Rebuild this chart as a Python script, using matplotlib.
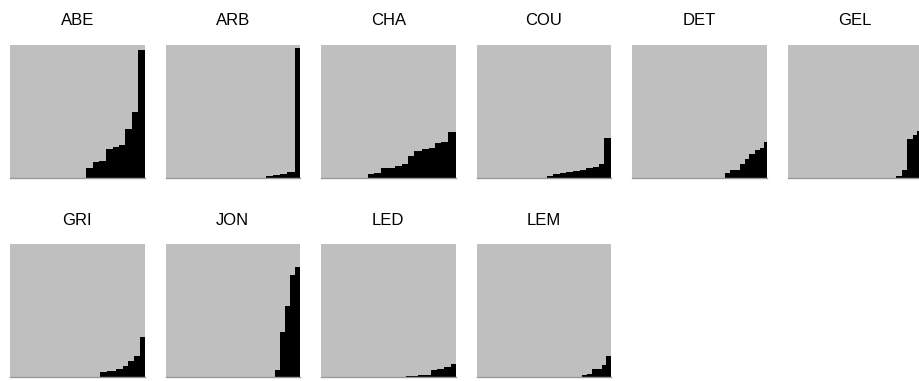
import matplotlib
matplotlib.use("Agg")
import matplotlib.pyplot as plt

plt.rcParams['font.family'] = ['Liberation Sans', 'DejaVu Sans']

# Sites, one panel each
sites = ["ABE", "ARB", "CHA", "COU", "DET", "GEL", "GRI", "JON", "LED", "LEM"]

# Step edges (share of panel width) for the black area
abe_x = [0.567, 0.614, 0.662, 0.716, 0.764, 0.811, 0.858, 0.905, 0.950, 1.0]
arb_x = [0.746, 0.801, 0.851, 0.900, 0.960, 1.0]
cha_x = [0.35, 0.395, 0.445, 0.5, 0.55, 0.6, 0.645, 0.695, 0.75, 0.8, 0.845, 0.895, 0.945, 1.0]
cou_x = [0.522, 0.571, 0.620, 0.669, 0.718, 0.767, 0.816, 0.865, 0.914, 0.951, 1.0]
det_x = [0.69, 0.732, 0.8, 0.837, 0.873, 0.915, 0.951, 0.983, 1.0]
gel_x = [0.805, 0.848, 0.888, 0.931, 0.964, 1.0]
gri_x = [0.672, 0.722, 0.789, 0.839, 0.876, 0.921, 0.963, 1.0]
jon_x = [0.812, 0.853, 0.890, 0.927, 0.966, 1.0]
led_x = [0.632, 0.681, 0.723, 0.767, 0.816, 0.865, 0.914, 0.963, 1.0]
lem_x = [0.783, 0.821, 0.862, 0.933, 0.964, 1.0]

# Step heights (share of panel height)
abe_y = [0.068, 0.113, 0.123, 0.217, 0.227, 0.242, 0.363, 0.489, 0.955]
arb_y = [0.01, 0.018, 0.025, 0.038, 0.97]
cha_y = [0.025, 0.035, 0.068, 0.073, 0.088, 0.103, 0.161, 0.199, 0.217, 0.224, 0.262, 0.264, 0.345]
cou_y = [0.01, 0.025, 0.035, 0.043, 0.05, 0.06, 0.07, 0.081, 0.1, 0.295]
det_y = [0.035, 0.06, 0.105, 0.14, 0.18, 0.205, 0.225, 0.265]
gel_y = [0.01, 0.06, 0.29, 0.32, 0.35]
gri_y = [0.037, 0.045, 0.062, 0.082, 0.119, 0.156, 0.298]
jon_y = [0.052, 0.335, 0.533, 0.764, 0.826]
led_y = [0.004, 0.008, 0.012, 0.015, 0.052, 0.062, 0.077, 0.094]
lem_y = [0.012, 0.025, 0.062, 0.087, 0.156]

edges = [abe_x, arb_x, cha_x, cou_x, det_x, gel_x, gri_x, jon_x, led_x, lem_x]
heights = [abe_y, arb_y, cha_y, cou_y, det_y, gel_y, gri_y, jon_y, led_y, lem_y]

W, H = 919, 381
fig = plt.figure(figsize=(W / 100, H / 100), dpi=100)

ncols = 6
pw, ph = 134.5, 133
col_left = 10
col_step = 155.5
row_top = [44.5, 244]

for i, site in enumerate(sites):
    r, c = divmod(i, ncols)
    left = col_left + c * col_step
    top = row_top[r]
    ax = fig.add_axes([left / W, 1 - (top + ph) / H, pw / W, ph / H])
    ax.set_facecolor("#bfbfbf")
    ax.stairs(heights[i], edges[i], fill=True, color="black", baseline=0)
    ax.set_xlim(0, 1)
    ax.set_ylim(0, 1)
    ax.set_xticks([])
    ax.set_yticks([])
    for s in ["top", "left", "right"]:
        ax.spines[s].set_visible(False)
    ax.spines["bottom"].set_color("#9a9a9a")
    ax.spines["bottom"].set_linewidth(1)
    ax.set_title(site, fontsize=12, pad=14)

fig.savefig("out.png", dpi=100)
